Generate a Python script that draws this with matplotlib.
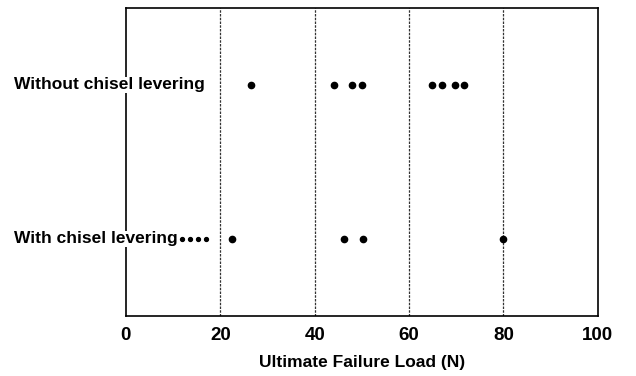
import matplotlib
matplotlib.use("Agg")
import matplotlib.pyplot as plt

# dados
grupos = ["Without chisel levering", "With chisel levering"]
sem_alavanca = [26.4, 44.0, 48.0, 50.0, 64.9, 66.9, 69.8, 71.7]
com_alavanca_peq = [11.8, 13.5, 15.2, 17.0]
com_alavanca = [22.4, 46.3, 50.3, 80.0]
xticks = [0, 20, 40, 60, 80, 100]

plt.rcParams['font.family'] = ['Liberation Sans', 'DejaVu Sans']

fig = plt.figure(figsize=(6.36, 3.76), dpi=100)
ax = fig.add_axes([0.198, 0.160, 0.742, 0.819])

ax.set_xlim(0, 100)
ax.set_ylim(0.5, 2.5)

for x in xticks[1:-1]:
    ax.axvline(x, color='#333333', lw=0.9, ls=(0, (2, 1)), zorder=1)

# linhas: superior y=2, inferior y=1
ax.plot(sem_alavanca, [2] * len(sem_alavanca), 'o', color='black', ms=4.5, zorder=5)
ax.plot(com_alavanca, [1] * len(com_alavanca), 'o', color='black', ms=4.5, zorder=5)
ax.plot(com_alavanca_peq, [1] * len(com_alavanca_peq), 'o', color='black', ms=2.8, zorder=5)

# rotulos das categorias, sobrepostos ao eixo
for i, g in enumerate(grupos):
    ax.text(-23.8, 2 - i, g, ha='left', va='center', fontsize=12.5,
            fontweight='bold', clip_on=False, zorder=4,
            bbox=dict(facecolor='white', edgecolor='none', pad=0.5))

ax.set_xticks(xticks)
ax.set_xticklabels([str(v) for v in xticks], fontsize=13.5, fontweight='bold')
ax.tick_params(axis='x', length=0, pad=8)
ax.set_yticks([])
ax.set_xlabel('Ultimate Failure Load (N)', fontsize=12.5, fontweight='bold', labelpad=8)

for s in ax.spines.values():
    s.set_linewidth(1.2)
    s.set_color('black')

fig.savefig('out.png', dpi=100)
